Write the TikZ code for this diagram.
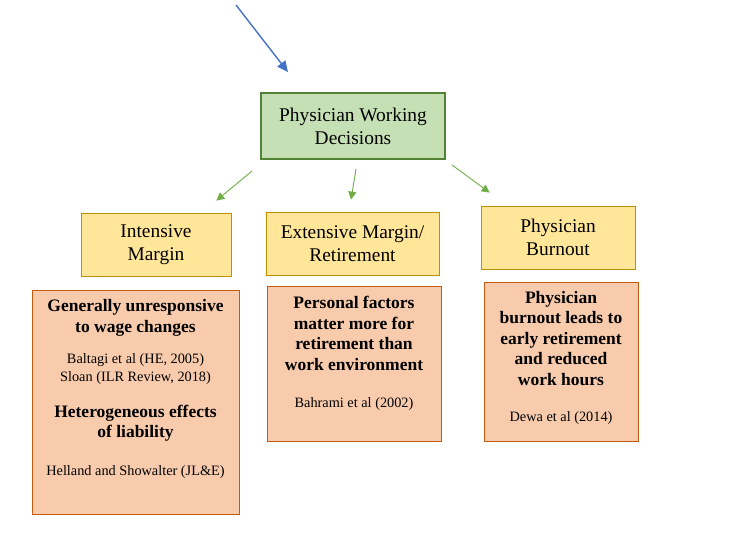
\documentclass[tikz,border=0pt]{standalone}
\usepackage{fontspec}
\setmainfont{Liberation Serif}
\usepackage{tikz}
\usetikzlibrary{positioning,arrows.meta,shapes,calc}
\definecolor{topfill}{HTML}{C5E0B4}
\definecolor{topline}{HTML}{548235}
\definecolor{margfill}{HTML}{FFE699}
\definecolor{margline}{HTML}{BF9000}
\definecolor{findfill}{HTML}{F8CBAD}
\definecolor{findline}{HTML}{C55A11}
\definecolor{bluearr}{HTML}{4472C4}
\definecolor{greenarr}{HTML}{70AD47}

\begin{document}
\begin{tikzpicture}[
    x=1pt,y=-1pt,
    topbox/.style={rectangle,draw=topline,line width=1.8pt,fill=topfill,minimum width=184pt,minimum height=66pt,align=center,font=\fontsize{19.4}{23}\selectfont},
    margbox/.style={rectangle,draw=margline,line width=0.7pt,fill=margfill,align=center,font=\fontsize{19.4}{23}\selectfont},
    findbox/.style={rectangle,draw=findline,line width=0.9pt,fill=findfill},
    bigtxt/.style={align=center,inner sep=0pt,font=\fontsize{17.5}{20.5}\selectfont\bfseries},
    reftxt/.style={align=center,inner sep=0pt,font=\fontsize{14.3}{18}\selectfont},
    garrow/.style={draw=greenarr,line width=0.9pt,-{Triangle[length=8pt,width=8pt]}},
    barrow/.style={draw=bluearr,line width=1.4pt,-{Triangle[length=11pt,width=10pt]}}
]
    \useasboundingbox (0,0) rectangle (732,556);
    \node[topbox] (pwd) at (353,126) {Physician Working\\Decisions};
    \node[margbox,minimum width=150pt,minimum height=63pt] (im) at (156,244.5) {Intensive\\Margin};
    \node[margbox,minimum width=173pt,minimum height=63pt] (em) at (352.5,243.5) {Extensive Margin/\\Retirement};
    \node[margbox,minimum width=154pt,minimum height=63pt] (pb) at (558,237.5) {Physician\\Burnout};
    \node[findbox,minimum width=207pt,minimum height=224pt] (imf) at (135.5,402) {};
    \node[findbox,minimum width=174pt,minimum height=155pt] (emf) at (354,363.5) {};
    \node[findbox,minimum width=154pt,minimum height=159pt] (pbf) at (561,361.5) {};
    \node[bigtxt] (imf1) at (135.5,318) {Generally unresponsive\\to wage changes};
    \node[reftxt] (imf2) at (135.5,369) {Baltagi et al (HE, 2005)\\Sloan (ILR Review, 2018)};
    \node[bigtxt] (imf3) at (135.5,423) {Heterogeneous effects\\of liability};
    \node[reftxt] (imf4) at (135.5,472) {Helland and Showalter (JL\&E)};
    \node[bigtxt] (emf1) at (354,333.5) {Personal factors\\matter more for\\retirement than\\work environment};
    \node[reftxt] (emf2) at (354,404) {Bahrami et al (2002)};
    \node[bigtxt] (pbf1) at (561,338.5) {Physician\\burnout leads to\\early retirement\\and reduced\\work hours};
    \node[reftxt] (pbf2) at (561,418) {Dewa et al (2014)};
    \coordinate (src) at (236,5);
    \draw[barrow] (src) -- ([xshift=-65pt,yshift=20pt]pwd.north);
    \draw[garrow] ([xshift=-8pt,yshift=-11pt]pwd.south west) -- ([xshift=-15pt,yshift=12pt]im.north east);
    \draw[garrow] ([xshift=3pt,yshift=-9pt]pwd.south) -- ([xshift=-1.5pt,yshift=12pt]em.north);
    \draw[garrow] ([xshift=6pt,yshift=-5pt]pwd.south east) -- ([xshift=9pt,yshift=13pt]pb.north west);
\end{tikzpicture}
\end{document}
